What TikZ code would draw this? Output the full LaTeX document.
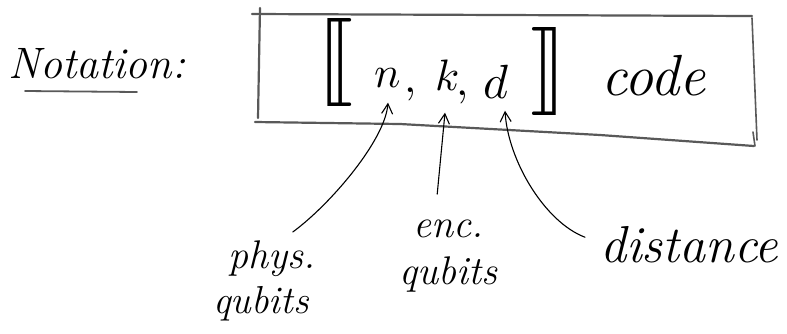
\documentclass[tikz,border=0pt]{standalone}
\usepackage{unicode-math}
\usetikzlibrary{arrows.meta}
\tikzset{
  ink/.style={draw=black, line width=1.1pt, line cap=round},
  arr/.style={ink, -{Straight Barb[length=10pt,width=11pt]}},
  pencil/.style={draw=black!65, line width=2.2pt, line cap=round, line join=round},
  hand/.style={inner sep=0pt, text=black},
}
\newcommand{\handsz}[1]{\fontsize{#1}{#1}\selectfont\itshape}
\begin{document}
\begin{tikzpicture}[x=1pt, y=-1pt]
\useasboundingbox (0,0) rectangle (787,333);

% heading
\node[hand, anchor=base west, font=\handsz{44}] (notation) at (8,78) {Notation:};
\draw[pencil, line width=1.8pt] ([xshift=17pt,yshift=-13pt]notation.base west) -- ++(112,1);

% the framed code notation
\draw[pencil] (252,14) -- (752,16);
\draw[pencil] (260,8) -- (258,118);
\draw[pencil] (255,122) -- (400,124) -- (600,135) -- (754,146);
\draw[pencil, line width=1.6pt] (752,18) -- (757,140) (753,132) -- (755,146);

\node[hand, font=\fontsize{88}{88}\selectfont] (lbr) at (336,62) {$\lBrack$};
\node[hand, anchor=base, font=\fontsize{44}{44}\selectfont] (nn) at (388,87) {$n$};
\node[hand, anchor=base, font=\fontsize{44}{44}\selectfont] (c1) at (411,92) {$,$};
\node[hand, anchor=base, font=\fontsize{44}{44}\selectfont] (kk) at (447,90) {$k$};
\node[hand, anchor=base, font=\fontsize{44}{44}\selectfont] (c2) at (463,95) {$,$};
\node[hand, anchor=base, font=\fontsize{48}{48}\selectfont] (dd) at (497,98) {$d$};
\node[hand, font=\fontsize{88}{88}\selectfont] (rbr) at (549,71) {$\rBrack$};
\node[hand, anchor=base west, font=\handsz{58}] (code) at (601,95) {code};

% labels
\node[hand, anchor=base west, font=\handsz{40}] (physA) at (228,268) {phys.};
\node[hand, anchor=base west, font=\handsz{39}] (physB) at (213,313) {qubits};
\node[hand, anchor=base west, font=\handsz{40}] (encA) at (413,237) {enc.};
\node[hand, anchor=base west, font=\handsz{40}] (encB) at (399,284) {qubits};
\node[hand, anchor=base west, font=\handsz{52}] (distA) at (600,262) {distance};

% pointers
\draw[arr] ([xshift=21pt,yshift=8pt]physA.north) .. controls +(37,-27) and +(-3,38) .. ([yshift=-15pt]nn.south);
\draw[arr] ([xshift=-11pt,yshift=25pt]encA.north) -- ([xshift=-2pt,yshift=-22pt]kk.south);
\draw[arr] ([xshift=-15pt,yshift=7pt]distA.west) .. controls +(-40,-15) and +(3,50) .. ([xshift=8pt,yshift=-12pt]dd.south);
\end{tikzpicture}
\end{document}
